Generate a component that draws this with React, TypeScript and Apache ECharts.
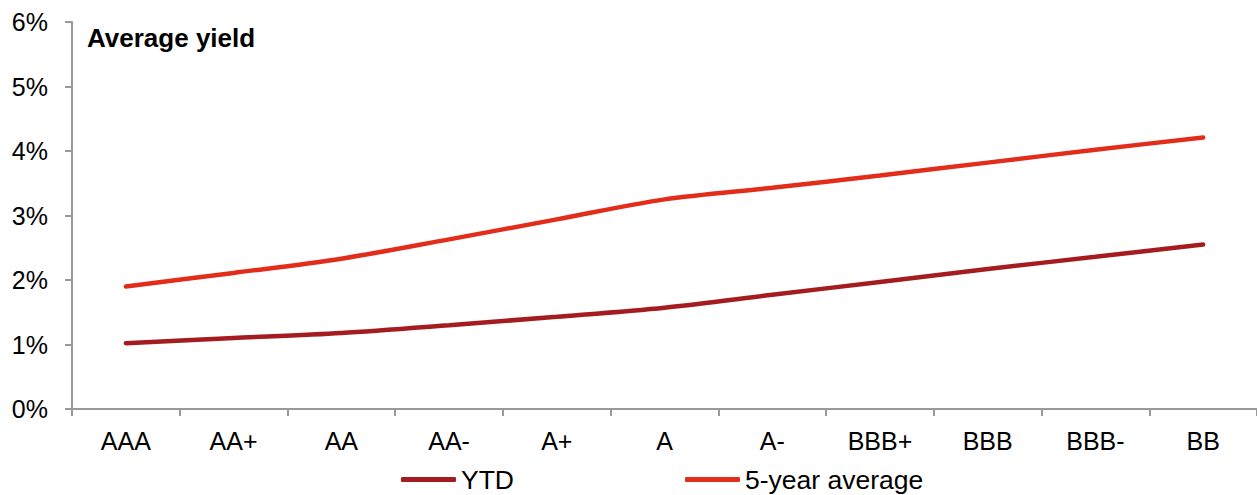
import React, { useEffect, useRef } from "react";
import * as echarts from "echarts";

const categories = ["AAA", "AA+", "AA", "AA-", "A+", "A", "A-", "BBB+", "BBB", "BBB-", "BB"];
const ytd = [1.02, 1.1, 1.18, 1.3, 1.43, 1.57, 1.77, 1.97, 2.17, 2.36, 2.55];
const fiveYear = [1.9, 2.11, 2.33, 2.63, 2.94, 3.25, 3.43, 3.62, 3.82, 4.02, 4.21];
const seriesNames = ["YTD", "5-year average"];
const titleText = "Average yield";

const FONT = "Liberation Sans, Arial, sans-serif";

export default function App() {
  const ref = useRef<HTMLDivElement>(null);
  useEffect(() => {
    document.body.style.margin = "0";
    const chart = echarts.init(ref.current!, null, { renderer: "svg" });
    const axisColor = "#999999";
    chart.setOption({
      animation: false,
      grid: { left: 72, right: 0, top: 22, bottom: 86, containLabel: false },
      graphic: [
        {
          type: "text",
          left: 87,
          top: 25,
          style: { text: titleText, font: `bold 26px ${FONT}`, fill: "#000" },
        },
      ],
      legend: {
        left: 401,
        top: 466,
        padding: 0,
        itemWidth: 55,
        itemHeight: 5,
        itemGap: 171,
        icon: "roundRect",
        textStyle: { fontFamily: FONT, fontSize: 26.5, color: "#000" },
        data: seriesNames,
      },
      xAxis: {
        type: "category",
        data: categories,
        boundaryGap: true,
        axisLine: { lineStyle: { color: axisColor, width: 2 } },
        axisTick: { show: true, length: 7, lineStyle: { color: axisColor, width: 2 } },
        axisLabel: { fontFamily: FONT, fontSize: 25, color: "#000", margin: 19 },
        splitLine: { show: false },
      },
      yAxis: {
        type: "value",
        min: 0,
        max: 6,
        interval: 1,
        axisLine: { show: true, lineStyle: { color: axisColor, width: 2 } },
        axisTick: { show: true, length: 7, lineStyle: { color: axisColor, width: 2 } },
        axisLabel: { fontFamily: FONT, fontSize: 25, color: "#000", margin: 24, formatter: "{value}%" },
        splitLine: { show: false },
      },
      series: [
        {
          name: seriesNames[0],
          type: "line",
          data: ytd,
          smooth: 0.3,
          symbol: "none",
          itemStyle: { color: "#A51C20" },
          lineStyle: { color: "#A51C20", width: 4.5, cap: "round" },
        },
        {
          name: seriesNames[1],
          type: "line",
          data: fiveYear,
          smooth: 0.3,
          symbol: "none",
          itemStyle: { color: "#E32D1B" },
          lineStyle: { color: "#E32D1B", width: 4.5, cap: "round" },
        },
      ],
    });
    return () => chart.dispose();
  }, []);
  return <div ref={ref} style={{ width: 1257, height: 495 }} />;
}
